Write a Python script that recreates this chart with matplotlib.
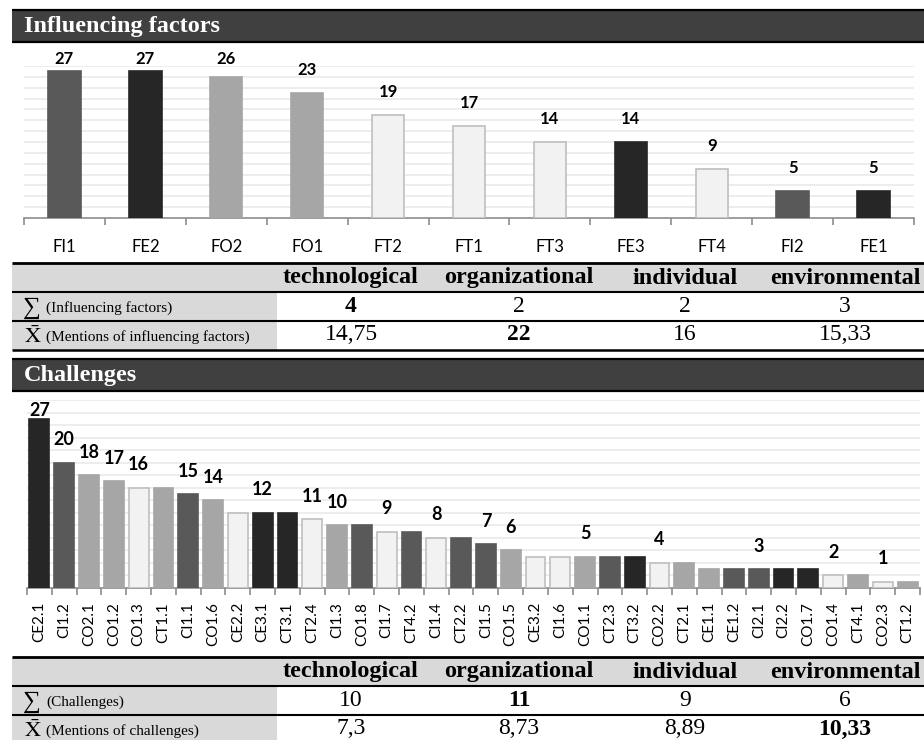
import numpy as np
import matplotlib
matplotlib.use("Agg")
import matplotlib.pyplot as plt
from matplotlib.patches import Rectangle

# ── Data ──
factor_names = ["FI1", "FE2", "FO2", "FO1", "FT2", "FT1", "FT3", "FE3", "FT4", "FI2", "FE1"]
factor_mentions = [27, 27, 26, 23, 19, 17, 14, 14, 9, 5, 5]

challenge_names = ["CE2.1", "CI1.2", "CO2.1", "CO1.2", "CO1.3", "CT1.1", "CI1.1", "CO1.6",
                   "CE2.2", "CE3.1", "CT3.1", "CT2.4", "CI1.3", "CO1.8", "CI1.7", "CT4.2",
                   "CI1.4", "CT2.2", "CI1.5", "CO1.5", "CE3.2", "CI1.6", "CO1.1", "CT2.3",
                   "CT3.2", "CO2.2", "CT2.1", "CE1.1", "CE1.2", "CI2.1", "CI2.2", "CO1.7",
                   "CO1.4", "CT4.1", "CO2.3", "CT1.2"]
challenge_mentions = [27, 20, 18, 17, 16, 16, 15, 14, 12, 12, 12, 11, 10, 10, 9, 9, 8, 8,
                      7, 6, 5, 5, 5, 5, 5, 4, 4, 3, 3, 3, 3, 3, 2, 2, 1, 1]
# only these bars carry a value label
challenge_labeled = [0, 1, 2, 3, 4, 6, 7, 9, 11, 12, 14, 16, 18, 19, 22, 25, 29, 32, 34]

dimensions = ["technological", "organizational", "individual", "environmental"]
factor_counts = [4, 2, 2, 3]
factor_means = [14.75, 22, 16, 15.33]
challenge_counts = [10, 11, 9, 6]
challenge_means = [7.3, 8.73, 8.89, 10.33]

# ── Style ──
SHADES = {"D": "#262626", "I": "#595959", "M": "#a6a6a6", "L": "#f2f2f2"}
factor_shades = "IDMMLLLDLID"
challenge_shades = "DIMMLMIMLDDLMILILIIMLLMIDLMMIIDDLMLM"

W, H = 924, 740
SANS = ["Lato", "DejaVu Sans"]
SERIF = ["Liberation Serif", "DejaVu Serif"]
GREY = "#d9d9d9"
plt.rcParams["mathtext.fontset"] = "stix"


def px_box(x0, y0, x1, y1):
    return [x0 / W, 1 - y1 / H, (x1 - x0) / W, (y1 - y0) / H]


def fmt(v):
    return f"{v:g}".replace(".", ",")


def draw_band(cv, top, bottom, title):
    cv.add_patch(Rectangle((12, top), W - 12, bottom - top, fc="#404040", lw=0))
    for y in (top, bottom):
        cv.plot([12, W], [y, y], color="black", lw=1.6, solid_capstyle="butt")
    cv.text(24, (top + bottom) / 2 + 0.5, title, color="white", fontweight="bold",
            family=SERIF, size=17.5, va="center", ha="left")


def draw_table(cv, top, sum_text, mean_text, counts, means):
    col_x = [351, 519, 685, 845]
    cv.add_patch(Rectangle((12, top), W - 12, 29, fc=GREY, lw=0))
    cv.add_patch(Rectangle((12, top + 29), 265, 58, fc=GREY, lw=0))
    for y, lw in [(top, 2.0), (top + 29, 1.5), (top + 58, 1.5), (top + 87, 1.8)]:
        cv.plot([12, W], [y, y], color="black", lw=lw, solid_capstyle="butt", zorder=1)
    for x, name in zip(col_x, dimensions):
        cv.text(x, top + 15, name, family=SERIF, fontweight="bold", size=17.5,
                ha="center", va="center")
    for row, (label, vals) in enumerate([(sum_text, counts), (mean_text, means)]):
        yc = top + 43 + 29 * row
        if row == 0:
            cv.text(23, yc + 2, "∑", family=SERIF, size=18, ha="left", va="center")
        else:
            cv.text(24, yc + 1, r"$\bar{\mathrm{X}}$", size=16, ha="left", va="center",
                    zorder=3)
        cv.text(46, yc + 2, label, family=SERIF, size=11, ha="left", va="center")
        vmax = max(vals)
        for x, v in zip(col_x, vals):
            cv.text(x, yc, fmt(v), family=SERIF, size=17, ha="center", va="center",
                    fontweight="bold" if v == vmax else "normal")


def draw_bars(ax, names, values, shades, labeled, ymax, width, offset, cap,
              label_size, tick_size, tick_rot, tick_pad):
    x = np.arange(len(values))
    vals = np.array(values, dtype=float)
    fills = [SHADES[s] for s in shades]
    edges = ["#bfbfbf" if s == "L" else f for s, f in zip(shades, fills)]
    ax.bar(x, vals, width=width, color=fills, edgecolor=edges, linewidth=1.2, zorder=3)
    label_y = np.minimum(vals + offset, cap)
    for i in labeled:
        ax.text(x[i], label_y[i], f"{values[i]:g}", ha="center", va="center",
                family=SANS, fontweight="bold", size=label_size, zorder=4)

    ax.set_xlim(-0.5, len(values) - 0.5)
    ax.set_ylim(0, ymax)
    ax.set_facecolor("none")
    ax.set_yticks(np.arange(2, ymax + 1, 2))
    ax.yaxis.grid(True, color="#e8e8e8", lw=1.1, zorder=0)
    ax.tick_params(axis="y", left=False, labelleft=False)
    for side in ("left", "right", "top"):
        ax.spines[side].set_visible(False)
    ax.spines["bottom"].set_color("#8c8c8c")
    ax.spines["bottom"].set_linewidth(1.2)

    ax.set_xticks(x)
    ax.set_xticklabels(names, rotation=tick_rot, family=SANS, size=tick_size)
    ax.set_xticks(np.arange(-0.5, len(values)), minor=True)
    ax.tick_params(axis="x", which="major", length=0, pad=tick_pad)
    ax.tick_params(axis="x", which="minor", length=5, width=1.2, color="#8c8c8c",
                   direction="out")


fig = plt.figure(figsize=(W / 100, H / 100), dpi=100)
cv = fig.add_axes([0, 0, 1, 1])
cv.set_xlim(0, W)
cv.set_ylim(H, 0)
cv.axis("off")

# Influencing factors block
draw_band(cv, 10, 42, "Influencing factors")
ax1 = fig.add_axes(px_box(24, 66, 914, 218))
draw_bars(ax1, factor_names, factor_mentions, factor_shades, range(len(factor_mentions)),
          ymax=28, width=0.4, offset=4.25, cap=29.2, label_size=12, tick_size=12,
          tick_rot=0, tick_pad=15)
draw_table(cv, 263, "(Influencing factors)", "(Mentions of influencing factors)",
           factor_counts, factor_means)

# Challenges block
draw_band(cv, 359, 391, "Challenges")
ax2 = fig.add_axes(px_box(27, 400, 920, 588))
draw_bars(ax2, challenge_names, challenge_mentions, challenge_shades, challenge_labeled,
          ymax=30, width=0.8, offset=3.67, cap=28.4, label_size=13, tick_size=11,
          tick_rot=90, tick_pad=10)
draw_table(cv, 657, "(Challenges)", "(Mentions of challenges)",
           challenge_counts, challenge_means)

fig.savefig("out.png", dpi=100)
